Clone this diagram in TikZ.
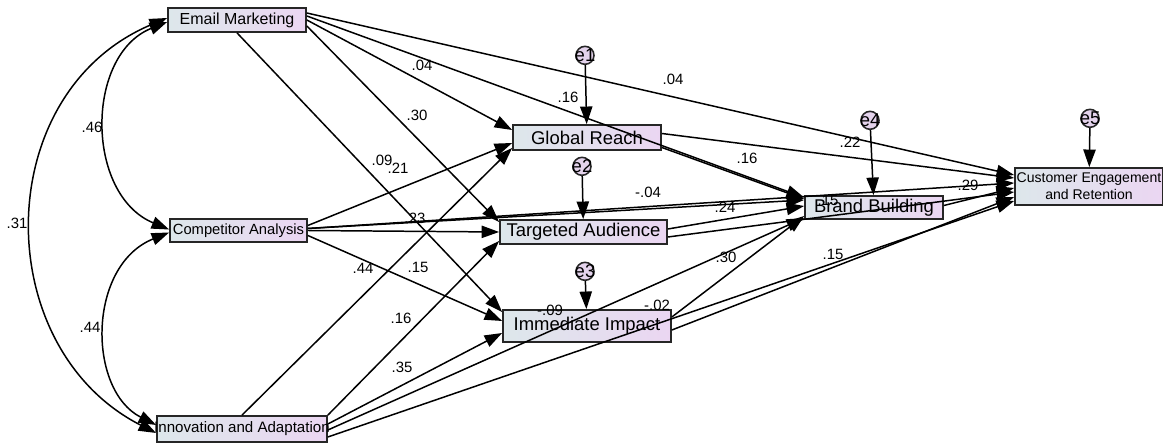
\documentclass[tikz,border=0pt]{standalone}
\usepackage{fontspec}
\setmainfont{Liberation Sans}
\usepackage{tikz}
\usetikzlibrary{arrows.meta, positioning, calc}
\definecolor{boxL}{HTML}{DDE7EB}
\definecolor{boxR}{HTML}{EBD6F2}
\definecolor{errfill}{HTML}{E4D3EC}
\tikzset{
x=0.02cm, y=0.02cm, % one unit is one pixel of the layout
>={Triangle[length=10pt,width=7pt]}, % filled arrow heads
var/.style={draw=black!85, line width=1pt, left color=boxL, right color=boxR, inner sep=0pt, align=center}, % observed variables
err/.style={circle, draw=black!85, line width=0.9pt, fill=errfill, minimum size=0.36cm, inner sep=0pt, font=\fontsize{10.5}{10}\selectfont}, % error terms
reg/.style={->, line width=0.85pt}, % regression paths
cov/.style={<->, line width=0.85pt}, % covariances
coef/.style={inner sep=0pt, font=\fontsize{8.5}{9}\selectfont}, % estimates
}
\begin{document}
\begin{tikzpicture}
\useasboundingbox (0,0) rectangle (1163,-448);

% exogenous variables
\node[var, minimum width=2.76cm, minimum height=0.48cm, font=\fontsize{9.1}{10}\selectfont] (em) at (237,-20) {Email Marketing};
\node[var, minimum width=2.74cm, minimum height=0.46cm, font=\fontsize{8.4}{9}\selectfont] (ca) at (238.5,-230.5) {Competitor Analysis};
\node[var, minimum width=3.4cm, minimum height=0.52cm, font=\fontsize{8.6}{9}\selectfont] (ia) at (242,-429) {\makebox[0pt]{Innovation and Adaptation}};

% mediators and outcomes
\node[var, minimum width=2.96cm, minimum height=0.5cm, font=\fontsize{10.5}{12}\selectfont] (gr) at (587,-137.5) {Global Reach};
\node[var, minimum width=3.34cm, minimum height=0.48cm, font=\fontsize{10.5}{12}\selectfont] (ta) at (583.5,-232) {Targeted Audience};
\node[var, minimum width=3.36cm, minimum height=0.64cm, font=\fontsize{10.5}{12}\selectfont] (ii) at (587,-326) {Immediate Impact};
\node[var, minimum width=2.76cm, minimum height=0.46cm, font=\fontsize{10.5}{12}\selectfont] (bb) at (874,-207.5) {Brand Building};
\node[var, minimum width=2.96cm, minimum height=0.74cm, font=\fontsize{8}{9.6}\selectfont] (cer) at (1089,-186.5) {Customer Engagement\\and Retention};

% error terms
\node[err, above=1.18cm of gr, xshift=-0.04cm] (e1) {\makebox[0pt]{e1}};
\node[err, above=0.86cm of ta, xshift=-0.03cm] (e2) {\makebox[0pt]{e2}};
\node[err, above=0.56cm of ii, xshift=-0.04cm] (e3) {\makebox[0pt]{e3}};
\node[err, above=1.3cm of bb, xshift=-0.08cm] (e4) {\makebox[0pt]{e4}};
\node[err, above=0.78cm of cer, xshift=0.02cm] (e5) {\makebox[0pt]{e5}};
\draw[reg] (e1) -- (gr);
\draw[reg] (e2) -- (ta);
\draw[reg] (e3) -- (ii);
\draw[reg] (e4) -- (bb);
\draw[reg] (e5) -- (cer);

% regression paths: source/anchor/offset/target/offset
\foreach \s/\sa/\sy/\t/\ty in {
  em/east/7/cer/11.5, em/east/4/bb/10, em/east/0/gr/7.5, em/east/-6/ta/10, em/south/0/ii/14,
  ca/east/5/gr/-5.5, ca/east/2/bb/7.5, ca/east/2/cer/3.5, ca/east/0/ta/0, ca/east/-5/ii/5,
  ia/north/0/gr/-10.5, ia/north east/0/ta/-9, ia/east/5/ii/-7, ia/east/-1/bb/-10.5, ia/east/-8/cer/-14.5,
  gr/east/4/cer/8.5, gr/east/-10/bb/8.5,
  ta/east/3/bb/1.5, ta/east/-5/cer/-5.5,
  ii/east/9/bb/-8.5, ii/east/-4/cer/-10.5,
  bb/east/2/cer/-1.5}
  \draw[reg] ($(\s.\sa)+(0,\sy)$) -- ($(\t.west)+(0,\ty)$);

% covariances
\draw[cov] ($(em.west)+(0,-2)$) .. controls +(-82,-33) and +(-84,35) .. ($(ca.west)+(0,1)$);
\draw[cov] ($(em.west)+(0,2)$) .. controls +(-178,-75) and +(-167,85) .. ($(ia.west)+(0,-4)$);
\draw[cov] ($(ca.west)+(0,-2)$) .. controls +(-82,-33) and +(-69,35) .. ($(ia.west)+(0,4)$);

% estimates
\foreach \x/\y/\c [count=\i] in {
  422/65/.04, 568/97/.16, 673/79/.04, 417/115/.30, 382/160/.09, 398/168/.21,
  850/142/.22, 747/158/.16, 648/192/-.04, 415/218/.23, 725/207/.24, 828/200/.15,
  968/185/.29, 363/268/.44, 418/267/.15, 401/318/.16, 402/367/.35, 726/257/.30,
  833/254/.15, 550/310/-.09, 657/305/-.02, 92/127/.46, 90/327/.44, 17/223/.31}
  \node[coef] (c\i) at (\x,-\y) {\c};
\end{tikzpicture}
\end{document}
